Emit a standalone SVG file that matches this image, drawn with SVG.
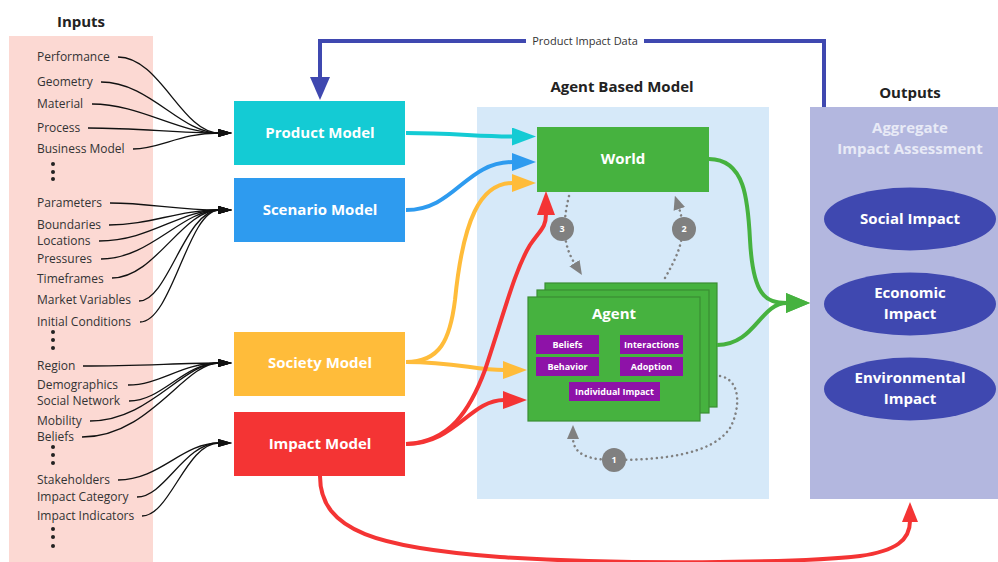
<svg xmlns="http://www.w3.org/2000/svg" width="998" height="562" viewBox="0 0 998 562">
<defs>
<style>
.lbl{font-family:"Open Sans","Liberation Sans",sans-serif;font-size:12px;fill:#333;}
.title{font-family:"Open Sans","Liberation Sans",sans-serif;font-size:15px;font-weight:bold;fill:#222;text-anchor:middle;}
.box{font-family:"Open Sans","Liberation Sans",sans-serif;font-size:15px;font-weight:bold;fill:#fff;text-anchor:middle;}
.small{font-family:"Open Sans","Liberation Sans",sans-serif;font-size:9px;font-weight:bold;fill:#fff;text-anchor:middle;}
.in{fill:none;stroke:#111;stroke-width:1.3;marker-end:url(#ak);}
.dot{fill:none;stroke:#808080;stroke-width:2.5;stroke-dasharray:0.1 5;stroke-linecap:round;}
.num{font-family:"Open Sans","Liberation Sans",sans-serif;font-size:9px;font-weight:bold;fill:#fff;text-anchor:middle;}
.pbox{fill:#8E12A8;}
</style>
<marker id="ak" viewBox="0 -4 14 8" markerWidth="14" markerHeight="8" refX="1" refY="0" orient="auto" markerUnits="userSpaceOnUse"><path d="M0,-4 L14,0 L0,4 z" fill="#111"/></marker>
<marker id="acy" viewBox="0 -9 24 18" markerWidth="24" markerHeight="18" refX="1" refY="0" orient="auto" markerUnits="userSpaceOnUse"><path d="M0,-9 L24,0 L0,9 z" fill="#14CBD4"/></marker>
<marker id="abl" viewBox="0 -9 24 18" markerWidth="24" markerHeight="18" refX="1" refY="0" orient="auto" markerUnits="userSpaceOnUse"><path d="M0,-9 L24,0 L0,9 z" fill="#2E9BEF"/></marker>
<marker id="aye" viewBox="0 -9 24 18" markerWidth="24" markerHeight="18" refX="1" refY="0" orient="auto" markerUnits="userSpaceOnUse"><path d="M0,-9 L24,0 L0,9 z" fill="#FFBC3A"/></marker>
<marker id="are" viewBox="0 -9 24 18" markerWidth="24" markerHeight="18" refX="1" refY="0" orient="auto" markerUnits="userSpaceOnUse"><path d="M0,-9 L24,0 L0,9 z" fill="#F43434"/></marker>
<marker id="are2" viewBox="0 -8 20 16" markerWidth="20" markerHeight="16" refX="1" refY="0" orient="auto" markerUnits="userSpaceOnUse"><path d="M0,-8 L20,0 L0,8 z" fill="#F43434"/></marker>
<marker id="agr" viewBox="0 -10 24 20" markerWidth="24" markerHeight="20" refX="1" refY="0" orient="auto" markerUnits="userSpaceOnUse"><path d="M0,-10 L24,0 L0,10 z" fill="#46B23F"/></marker>
<marker id="anv" viewBox="0 -10 23 20" markerWidth="23" markerHeight="20" refX="1" refY="0" orient="auto" markerUnits="userSpaceOnUse"><path d="M0,-10 L23,0 L0,10 z" fill="#3F48B0"/></marker>
<marker id="agy" viewBox="0 -6 14 12" markerWidth="14" markerHeight="12" refX="1" refY="0" orient="auto" markerUnits="userSpaceOnUse"><path d="M0,-6 L14,0 L0,6 z" fill="#808080"/></marker>
</defs>

<rect width="998" height="562" fill="#fff"/>

<!-- panels -->
<g id="inputs-panel">
<rect x="9" y="36" width="144" height="526" fill="#FCD9D3"/>
<text class="title" x="81" y="27">Inputs</text>
</g>
<g id="abm-panel">
<rect x="477" y="107" width="292" height="392" fill="#D6E9F9"/>
<text class="title" x="622" y="92">Agent Based Model</text>
</g>
<g id="outputs-panel">
<rect x="810" y="107" width="188" height="392" fill="#B3B7DF"/>
<text class="title" x="910" y="98">Outputs</text>
<text class="box" x="910" y="133" style="fill:#E8EAF6">Aggregate</text>
<text class="box" x="910" y="154" style="fill:#E8EAF6">Impact Assessment</text>
</g>

<!-- input labels -->
<g id="input-labels">
<text class="lbl" x="37" y="61">Performance</text>
<text class="lbl" x="37" y="86">Geometry</text>
<text class="lbl" x="37" y="108">Material</text>
<text class="lbl" x="37" y="132">Process</text>
<text class="lbl" x="37" y="153">Business Model</text>
<text class="lbl" x="37" y="207">Parameters</text>
<text class="lbl" x="37" y="229">Boundaries</text>
<text class="lbl" x="37" y="245">Locations</text>
<text class="lbl" x="37" y="263">Pressures</text>
<text class="lbl" x="37" y="283">Timeframes</text>
<text class="lbl" x="37" y="304">Market Variables</text>
<text class="lbl" x="37" y="326">Initial Conditions</text>
<text class="lbl" x="37" y="370">Region</text>
<text class="lbl" x="37" y="389">Demographics</text>
<text class="lbl" x="37" y="405">Social Network</text>
<text class="lbl" x="37" y="425">Mobility</text>
<text class="lbl" x="37" y="441">Beliefs</text>
<text class="lbl" x="37" y="484">Stakeholders</text>
<text class="lbl" x="37" y="501">Impact Category</text>
<text class="lbl" x="37" y="520">Impact Indicators</text>
<g fill="#222">
<circle cx="53" cy="164" r="2"/><circle cx="53" cy="172" r="2"/><circle cx="53" cy="179" r="2"/>
<circle cx="53" cy="332" r="2"/><circle cx="53" cy="340" r="2"/><circle cx="53" cy="348" r="2"/>
<circle cx="53" cy="447" r="2"/><circle cx="53" cy="455" r="2"/><circle cx="53" cy="463" r="2"/>
<circle cx="53" cy="529" r="2"/><circle cx="53" cy="537" r="2"/><circle cx="53" cy="546" r="2"/>
</g>
</g>

<!-- nodes -->
<g id="product-model"><rect x="234" y="101" width="171" height="64" fill="#14CBD4"/><text class="box" x="320" y="138">Product Model</text></g>
<g id="scenario-model"><rect x="234" y="178" width="171" height="64" fill="#2E9BEF"/><text class="box" x="320" y="215">Scenario Model</text></g>
<g id="society-model"><rect x="234" y="332" width="171" height="64" fill="#FFBC3A"/><text class="box" x="320" y="368">Society Model</text></g>
<g id="impact-model"><rect x="234" y="412" width="171" height="64" fill="#F43434"/><text class="box" x="320" y="449">Impact Model</text></g>
<g id="world"><rect x="537" y="127" width="172" height="65" fill="#46B23F"/><text class="box" x="623" y="164">World</text></g>
<g id="agent">
<rect x="545" y="283" width="172" height="124" fill="#46B23F" stroke="#3A8E33" stroke-width="1.2"/>
<rect x="537" y="290" width="172" height="123" fill="#46B23F" stroke="#3A8E33" stroke-width="1.2"/>
<rect x="528" y="297" width="172" height="124" fill="#46B23F" stroke="#3A8E33" stroke-width="1.2"/>
<text class="box" x="614" y="319">Agent</text>
<rect class="pbox" x="536" y="335" width="63" height="19"/><text class="small" x="567.5" y="348">Beliefs</text>
<rect class="pbox" x="620" y="335" width="63" height="19"/><text class="small" x="651.5" y="348">Interactions</text>
<rect class="pbox" x="536" y="357" width="63" height="19"/><text class="small" x="567.5" y="370">Behavior</text>
<rect class="pbox" x="620" y="357" width="63" height="19"/><text class="small" x="651.5" y="370">Adoption</text>
<rect class="pbox" x="569" y="382" width="91" height="19"/><text class="small" x="614.5" y="395">Individual Impact</text>
</g>
<g id="social-impact"><ellipse cx="910" cy="219" rx="86" ry="31.5" fill="#3F48B0"/><text class="box" x="910" y="224">Social Impact</text></g>
<g id="economic-impact"><ellipse cx="910" cy="304" rx="86" ry="31.5" fill="#3F48B0"/><text class="box" x="910" y="298">Economic</text><text class="box" x="910" y="319">Impact</text></g>
<g id="environmental-impact"><ellipse cx="910" cy="389" rx="86" ry="31.5" fill="#3F48B0"/><text class="box" x="910" y="383">Environmental</text><text class="box" x="910" y="404">Impact</text></g>

<!-- connectors -->
<g id="connectors">
<path class="in" d="M118,57 C160,57 182,133 219,133"/>
<path class="in" d="M101,82 C150,82 180,133 219,133"/>
<path class="in" d="M92,104 C140,104 178,133 219,133"/>
<path class="in" d="M88,128 C140,128 175,133 219,133"/>
<path class="in" d="M133,149 C160,149 180,133 219,133"/>

<path class="in" d="M110,203 C150,203 175,210 219,210"/>
<path class="in" d="M109,225 C150,225 178,210 219,210"/>
<path class="in" d="M99,241 C150,241 180,210 219,210"/>
<path class="in" d="M101,259 C150,259 182,210 219,210"/>
<path class="in" d="M112,278 C155,278 182,210 219,210"/>
<path class="in" d="M139,301 C168,301 185,210 219,210"/>
<path class="in" d="M140,322 C172,322 188,210 219,210"/>

<path class="in" d="M83,366 C140,366 180,363 219,363"/>
<path class="in" d="M128,385 C160,385 182,363 219,363"/>
<path class="in" d="M129,401 C162,401 184,363 219,363"/>
<path class="in" d="M90,421 C150,421 182,363 219,363"/>
<path class="in" d="M82,437 C150,437 184,363 219,363"/>

<path class="in" d="M118,480 C160,480 182,443 219,443"/>
<path class="in" d="M137,497 C165,497 184,443 219,443"/>
<path class="in" d="M142,516 C170,516 186,443 219,443"/>

<path d="M406,133 C450,133 480,136.5 513,136.5" fill="none" stroke="#14CBD4" stroke-width="4" marker-end="url(#acy)"/>
<path d="M406,210 C455,210 465,162 513,162" fill="none" stroke="#2E9BEF" stroke-width="4" marker-end="url(#abl)"/>
<path d="M406,362 C440,362 450,340 455,300 C463,220 480,183 513,183" fill="none" stroke="#FFBC3A" stroke-width="4" marker-end="url(#aye)"/>
<path d="M406,362 C455,362 475,370 504,370" fill="none" stroke="#FFBC3A" stroke-width="4" marker-end="url(#aye)"/>
<path d="M406,444 C450,442 470,410 485,370 C505,310 515,270 530,245 C540,230 546,228 546,214" fill="none" stroke="#F43434" stroke-width="4" marker-end="url(#are)"/>
<path d="M406,444 C455,444 470,400 504,400" fill="none" stroke="#F43434" stroke-width="4" marker-end="url(#are)"/>
<path d="M320,476 C320,532 380,548 500,557 C620,565 800,563 860,556 C896,551 910,540 910,521" fill="none" stroke="#F43434" stroke-width="4" marker-end="url(#are2)"/>
<path d="M709,159 C745,159 748,200 750,240 C753,295 765,303 787,303" fill="none" stroke="#46B23F" stroke-width="4" marker-end="url(#agr)"/>
<path d="M717,345 C755,345 760,303 787,303" fill="none" stroke="#46B23F" stroke-width="4" marker-end="url(#agr)"/>
<path d="M824,107 L824,41 L320,41 L320,78" fill="none" stroke="#3F48B0" stroke-width="4" marker-end="url(#anv)"/>
<rect x="526" y="33" width="118" height="16" fill="#fff"/>
<text class="lbl" x="585" y="45" text-anchor="middle" style="font-size:11px">Product Impact Data</text>

<path class="dot" d="M569,196 C562,225 563,245 575,264" marker-end="url(#agy)"/>
<path class="dot" d="M665,278 C678,255 688,235 679,208" marker-end="url(#agy)"/>
<path class="dot" d="M720,376 C742,380 740,410 730,428 C712,455 660,460 614,460 C590,460 573,455 573,438" marker-end="url(#agy)"/>
<circle cx="562" cy="229" r="12" fill="#808080"/><text class="num" x="562" y="232">3</text>
<circle cx="684" cy="229" r="12" fill="#808080"/><text class="num" x="684" y="232">2</text>
<circle cx="614" cy="460" r="12" fill="#808080"/><text class="num" x="614" y="463">1</text>
</g>
</svg>
